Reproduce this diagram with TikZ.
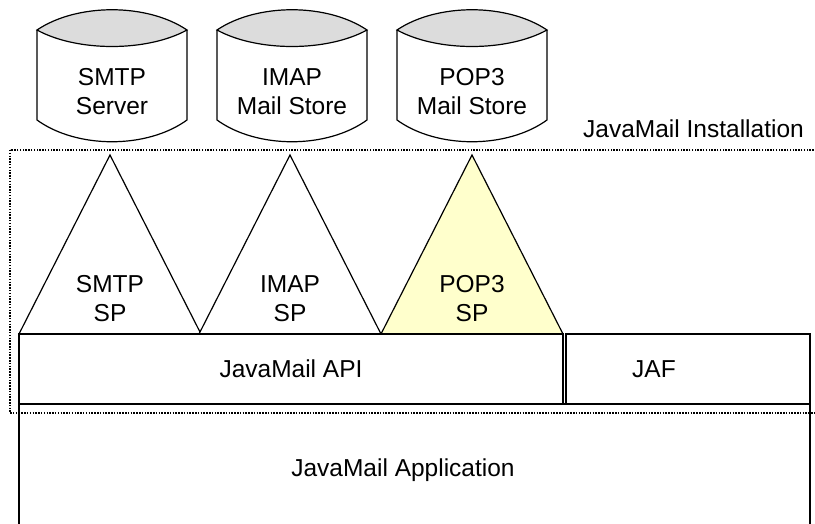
\documentclass[tikz,border=0pt]{standalone}
\usepackage{fontspec}
\setmainfont{Liberation Sans}
\definecolor{popfill}{HTML}{FFFFCC}
\definecolor{lidgray}{HTML}{DCDCDC}
\tikzset{
  lbl/.style={font=\fontsize{24.5}{29}\selectfont,align=center,inner sep=0pt},
  thinline/.style={line width=1.2pt,draw=black},
  layerbox/.style={line width=1.7pt,draw=black},
  installbox/.style={line width=1.1pt,dash pattern=on 1.5pt off 1.3pt}
}
\newcommand{\mailstore}[3]{%
  \draw[thinline,fill=white] (#1-75,30) -- (#1-75,120) .. controls (#1-35,149) and (#1+35,149) .. (#1+75,120) -- (#1+75,30);
  \draw[thinline,fill=lidgray] (#1-75,30) .. controls (#1-35,3) and (#1+35,3) .. (#1+75,30)
    .. controls (#1+35,52) and (#1-35,52) .. cycle;
  \node[lbl] (#2) at (#1,92) {#3};}
\newcommand{\provider}[4]{%
  \coordinate (#2top) at (#1,155);
  \coordinate (#2left) at (#1-91,334);
  \coordinate (#2right) at (#1+91,334);
  \draw[thinline,fill=#4,line join=miter] (#2left) -- (#2top) -- (#2right) -- cycle;
  \node[lbl] (#2sp) at (#1,299) {#3\\SP};}

\begin{document}
\begin{tikzpicture}[x=1pt,y=-1pt]
  \clip (0,0) rectangle (815,524);
  \fill[white] (0,0) rectangle (815,524);
  \mailstore{112}{smtpsrv}{SMTP\\Server}
  \mailstore{292}{imapsrv}{IMAP\\Mail Store}
  \mailstore{472}{popsrv}{POP3\\Mail Store}
  \draw[installbox] (10,150) rectangle (818,413);
  \node[lbl,anchor=east] (install) at (804,129) {JavaMail Installation};
  \provider{110}{smtp}{SMTP}{white}
  \provider{290}{imap}{IMAP}{white}
  \provider{472}{pop}{POP3}{popfill}
  \draw[layerbox] (19,334) rectangle (563,404);
  \draw[layerbox] (566,334) rectangle (810,404);
  \draw[layerbox] (19,540) -- (19,404) -- (810,404) -- (810,540);
  \node[lbl] (api) at (291,369) {JavaMail API};
  \node[lbl] (jaf) at (654,369) {JAF};
  \node[lbl] (app) at (403,470) {JavaMail Application};
\end{tikzpicture}
\end{document}
